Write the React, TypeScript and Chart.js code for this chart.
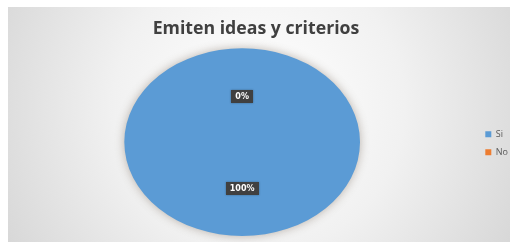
import React, { useEffect, useRef } from "react";
import { Chart, registerables } from "chart.js";

Chart.register(...registerables);

const categories = ["Si", "No"];
const values = [100, 0];
const colors = ["#5B9BD5", "#ED7D31"];
const titleText = "Emiten ideas y criterios";

const STRETCH_X = 118 / 94;

const backgroundPlugin = {
  id: "bgGradient",
  beforeDraw(chart: any) {
    const { ctx, width, height } = chart;
    ctx.save();
    const g = ctx.createRadialGradient(width * 0.5, height * 0.42, 10, width * 0.5, height * 0.42, width * 0.62);
    g.addColorStop(0, "#ffffff");
    g.addColorStop(0.45, "#f1f1f1");
    g.addColorStop(1, "#d3d3d3");
    ctx.fillStyle = g;
    ctx.fillRect(0, 0, width, height);
    ctx.restore();
  },
};

const ellipsePlugin = {
  id: "ellipse",
  beforeDatasetsDraw(chart: any) {
    const arc = chart.getDatasetMeta(0).data[0];
    const ctx = chart.ctx;
    ctx.save();
    ctx.translate(arc.x, arc.y);
    ctx.scale(STRETCH_X, 1);
    ctx.translate(-arc.x, -arc.y);
    ctx.shadowColor = "rgba(110, 95, 80, 0.45)";
    ctx.shadowBlur = 10;
  },
  afterDatasetsDraw(chart: any) {
    const ctx = chart.ctx;
    ctx.restore();
    const meta = chart.getDatasetMeta(0);
    const data = chart.data.datasets[0].data as number[];
    const total = data.reduce((a, b) => a + b, 0);
    meta.data.forEach((arc: any, i: number) => {
      const mid = (arc.startAngle + arc.endAngle) / 2;
      const r = arc.outerRadius * 0.49;
      const x = arc.x + Math.cos(mid) * r * STRETCH_X;
      const y = arc.y + Math.sin(mid) * r;
      const text = Math.round((data[i] / total) * 100) + "%";
      ctx.save();
      ctx.font = "bold 8px 'DejaVu Sans'";
      const w = ctx.measureText(text).width + 8;
      const h = 13;
      ctx.shadowColor = "rgba(0,0,0,0.35)";
      ctx.shadowBlur = 2;
      ctx.fillStyle = "#404040";
      ctx.fillRect(Math.round(x - w / 2), Math.round(y - h / 2), Math.round(w), h);
      ctx.shadowBlur = 0;
      ctx.fillStyle = "#ffffff";
      ctx.textAlign = "center";
      ctx.textBaseline = "middle";
      ctx.fillText(text, x, y + 0.5);
      ctx.restore();
    });
  },
};

export default function App() {
  const ref = useRef<HTMLCanvasElement | null>(null);

  useEffect(() => {
    if (!ref.current) return;
    const chart = new Chart(ref.current, {
      type: "pie",
      data: {
        labels: categories,
        datasets: [
          {
            data: values,
            backgroundColor: colors,
            borderWidth: 0,
          },
        ],
      },
      options: {
        animation: false,
        responsive: false,
        layout: { padding: { left: -14, right: -8, top: 0, bottom: 6 } },
        plugins: {
          tooltip: { enabled: false },
          title: {
            display: true,
            text: titleText,
            color: "#404040",
            font: { family: "'Open Sans'", size: 17.7, weight: "bold" },
            padding: { top: 11.5, bottom: 8.5 },
          },
          legend: {
            position: "right",
            title: {
              display: true,
              text: "",
              font: { size: 8 },
              padding: { top: 0, bottom: 34 },
            },
            labels: {
              boxWidth: 6,
              boxHeight: 6,
              padding: 9,
              color: "#595959",
              font: { family: "'Open Sans'", size: 9 },
            },
          },
        },
      },
      plugins: [backgroundPlugin, ellipsePlugin],
    });
    return () => chart.destroy();
  }, []);

  return (
    <div style={{ position: "absolute", left: 8, top: 7, width: 502, height: 235 }}>
      <canvas ref={ref} width={502} height={235} style={{ display: "block" }} />
    </div>
  );
}
